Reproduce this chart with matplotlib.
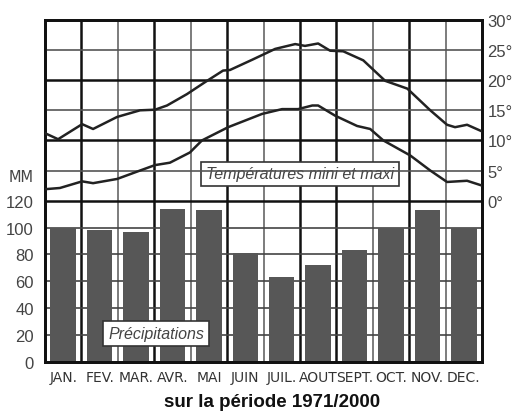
import matplotlib
matplotlib.use("Agg")
import matplotlib.pyplot as plt

# monthly precipitation (mm)
months = ["JAN.", "FEV.", "MAR.", "AVR.", "MAI", "JUIN", "JUIL.", "AOUT", "SEPT.", "OCT.", "NOV.", "DEC."]
precip = [100, 98, 96.5, 114, 113, 81, 63, 72.5, 83.5, 100, 113, 99.5]

# temperature curves, x in months since Jan 1st
tmax_x = [0, 0.36, 1.02, 1.32, 1.98, 2.61, 3.02, 3.35, 3.90, 4.40, 4.89, 5.08, 5.69, 6.32,
          6.87, 7.14, 7.50, 7.83, 8.19, 8.74, 9.34, 9.95, 10.58, 11.04, 11.26, 11.59, 12.0]
tmax = [11.2, 10.2, 12.7, 11.9, 13.9, 15.0, 15.1, 15.8, 17.7, 19.7, 21.6, 21.7, 23.4, 25.2,
        26.0, 25.7, 26.1, 24.9, 24.8, 23.3, 19.9, 18.6, 15.0, 12.6, 12.2, 12.6, 11.5]
tmin_x = [0, 0.41, 1.02, 1.32, 1.98, 2.61, 3.02, 3.43, 3.98, 4.31, 5.03, 5.96, 6.51,
          6.95, 7.34, 7.50, 7.97, 8.57, 8.93, 9.29, 10.03, 10.58, 11.04, 11.59, 12.0]
tmin = [1.9, 2.1, 3.2, 2.9, 3.6, 5.0, 5.9, 6.3, 8.0, 10.0, 12.2, 14.4, 15.2,
        15.2, 15.8, 15.8, 14.1, 12.4, 11.9, 10.0, 7.5, 5.0, 3.1, 3.3, 2.5]
mm_ticks = [0, 20, 40, 60, 80, 100, 120]
deg_ticks = [0, 5, 10, 15, 20, 25, 30]

narrow = ["Liberation Sans Narrow", "DejaVu Sans"]
sans = ["Liberation Sans", "DejaVu Sans"]

fig = plt.figure(figsize=(5.15, 4.14), dpi=100)
ax = fig.add_axes([45 / 515, 51 / 414, 437 / 515, 342 / 414])
ax.set_xlim(0, 12)
ax.set_ylim(0, 254.5)

# grid
for i in range(1, 12):
    thick = i in (1, 3, 5, 7, 8, 10)
    ax.axvline(i, color="#111" if thick else "#666", lw=1.8 if thick else 1.2, zorder=1)
for v in mm_ticks[1:-1]:
    ax.axhline(v, color="#444", lw=1.2, zorder=1)

ax.bar([i + 0.5 for i in range(12)], precip, width=0.7, color="#575757", zorder=2)

ax.set_yticks(mm_ticks)
ax.set_yticklabels([str(v) for v in mm_ticks], family=sans, fontsize=12, color="#444")
ax.set_xticks([i + 0.5 for i in range(12)])
ax.set_xticklabels(months, family=narrow, fontsize=10, color="#333")
ax.tick_params(length=0, pad=6)
ax.tick_params(axis="y", pad=8)
for s in ax.spines.values():
    s.set_linewidth(2)
    s.set_color("#111")

ax.text(-0.3, 138, "MM", family=narrow, fontsize=10.5, color="#444", ha="right", va="center")

ax.text(7.0, 140, "Températures mini et maxi", family=sans, style="italic", fontsize=11.5,
        color="#444", ha="center", va="center", zorder=5,
        bbox=dict(boxstyle="square,pad=0.3", fc="white", ec="#333", lw=1.2))
ax.text(3.05, 21, "Précipitations", family=sans, style="italic", fontsize=11.5,
        color="#444", ha="center", va="center", zorder=5,
        bbox=dict(boxstyle="square,pad=0.3", fc="white", ec="#333", lw=1.2))

# temperature axis
ax2 = ax.twinx()
ax2.set_ylim(-26.8, 30)
for v in deg_ticks[:-1]:
    thick = v % 10 == 0
    ax2.axhline(v, color="#111" if thick else "#555", lw=1.8 if thick else 1.2, zorder=1)
ax2.plot(tmax_x, tmax, color="#222", lw=1.8, zorder=3)
ax2.plot(tmin_x, tmin, color="#222", lw=1.8, zorder=3)
ax2.set_yticks(deg_ticks)
ax2.set_yticklabels([f"{v}°" for v in deg_ticks], family=sans, fontsize=12, color="#444")
ax2.tick_params(length=0, pad=4)
for s in ax2.spines.values():
    s.set_linewidth(2)
    s.set_color("#111")

fig.text(272 / 515, 1 - 403 / 414, "sur la période 1971/2000", family=sans,
         fontweight="bold", fontsize=13.5, color="#111", ha="center", va="center")

fig.savefig("out.png", dpi=100)
